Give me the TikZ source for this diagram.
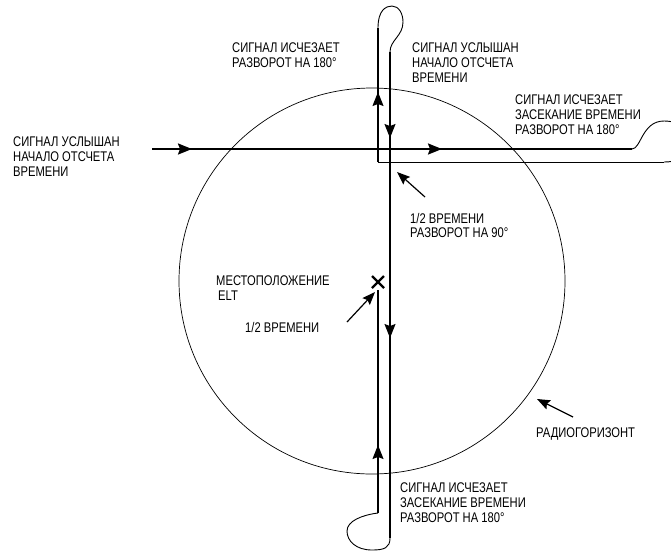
\documentclass[tikz,border=0pt]{standalone}
\usepackage{fontspec}
\setmainfont{Liberation Sans}[FakeStretch=0.8]
\usetikzlibrary{arrows.meta}

\begin{document}
\begin{tikzpicture}[x=1pt, y=-1pt,
  every node/.style={font=\fontsize{14}{14.6}\selectfont, inner sep=0pt, anchor=north west, align=left},
  horizon/.style={line width=0.7pt},
  leg/.style={line width=2pt},
  route/.style={line width=1.1pt},
  loopline/.style={line width=0.9pt},
  tip/.style={-{Stealth[length=14pt,width=11pt,inset=2pt]}, line width=1.1pt},
  pointer/.style={-{Stealth[length=13pt,width=10pt,inset=2pt]}, line width=1.2pt}
]
  \useasboundingbox (0,0) rectangle (671,550);
  \clip (0,0) rectangle (671,550);

  % radio horizon
  \node[draw, circle, horizon, minimum size=386pt, anchor=center] (horizon) at (372,281) {};

  % flight path
  \coordinate (heard) at (152,149);
  \coordinate (lost) at (632,149);
  \coordinate (back) at (664,162);
  \coordinate (half) at (378,162);
  \coordinate (north) at (378,28);
  \coordinate (south) at (390,52);
  \coordinate (bottom) at (390,538);
  \coordinate (up) at (378,513);
  \coordinate (elt) at (378,282);

  \draw[leg] (heard) -- (lost);
  \draw[loopline] (lost) .. controls (641,149) and (642,121) .. (664,121)
    .. controls (684,121) and (692,134) .. (692,145)
    .. controls (692,158) and (676,162) .. (back);
  \draw[loopline] (back) -- (half);
  \draw[route] (half) -- (378,100);
  \draw[leg] (378,100) -- (north);
  \draw[loopline] (north) .. controls (378,10) and (386,6) .. (392,6)
    .. controls (399,6) and (403,14) .. (403,22)
    .. controls (403,36) and (390,40) .. (south);
  \draw[route] (south) -- (bottom);
  \draw[loopline] (bottom) .. controls (390,548) and (384,550) .. (372,550)
    .. controls (356,550) and (347,541) .. (347,531)
    .. controls (347,521) and (362,515) .. (up);
  \draw[route] (up) -- (378,290);

  % direction marks
  \draw[tip, line width=2pt] (176,149) -- (192,149);
  \draw[tip, line width=2pt] (426,149) -- (442,149);
  \draw[tip] (378,108) -- (378,92);
  \draw[tip] (390,124) -- (390,138);
  \draw[tip] (390,324) -- (390,338);
  \draw[tip] (378,459) -- (378,445);

  % ELT position
  \draw[line width=2.4pt] ([shift={(-6,-6)}]elt) -- ([shift={(6,6)}]elt)
    ([shift={(-6,6)}]elt) -- ([shift={(6,-6)}]elt);

  % labels
  \node (lostA) at (232,43) {СИГНАЛ ИСЧЕЗАЕТ\\РАЗВОРОТ НА 180°};
  \node (heardB) at (412,43) {СИГНАЛ УСЛЫШАН\\НАЧАЛО ОТСЧЕТА\\ВРЕМЕНИ};
  \node (lostC) at (515,95) {СИГНАЛ ИСЧЕЗАЕТ\\ЗАСЕКАНИЕ ВРЕМЕНИ\\РАЗВОРОТ НА 180°};
  \node (heardD) at (13,137) {СИГНАЛ УСЛЫШАН\\НАЧАЛО ОТСЧЕТА\\ВРЕМЕНИ};
  \node (turn) at (410,213) {1/2 ВРЕМЕНИ\\РАЗВОРОТ НА 90°};
  \node (eltlabel) at (216,276) {МЕСТОПОЛОЖЕНИЕ\\\hspace{2pt}ELT};
  \node (halftime) at (245,322) {1/2 ВРЕМЕНИ};
  \node (radio) at (536,428) {РАДИОГОРИЗОНТ};
  \node (lostE) at (400,483) {СИГНАЛ ИСЧЕЗАЕТ\\ЗАСЕКАНИЕ ВРЕМЕНИ\\РАЗВОРОТ НА 180°};

  % pointers
  \coordinate (turntail) at (425,197);
  \coordinate (turntip) at (397,172);
  \coordinate (elttail) at (347,322);
  \coordinate (elttip) at (375,292);
  \coordinate (radiotail) at (573,417);
  \coordinate (radiotip) at (537,399);
  \draw[pointer] (turntail) -- (turntip);
  \draw[pointer] (elttail) -- (elttip);
  \draw[pointer] (radiotail) -- (radiotip);
\end{tikzpicture}
\end{document}
